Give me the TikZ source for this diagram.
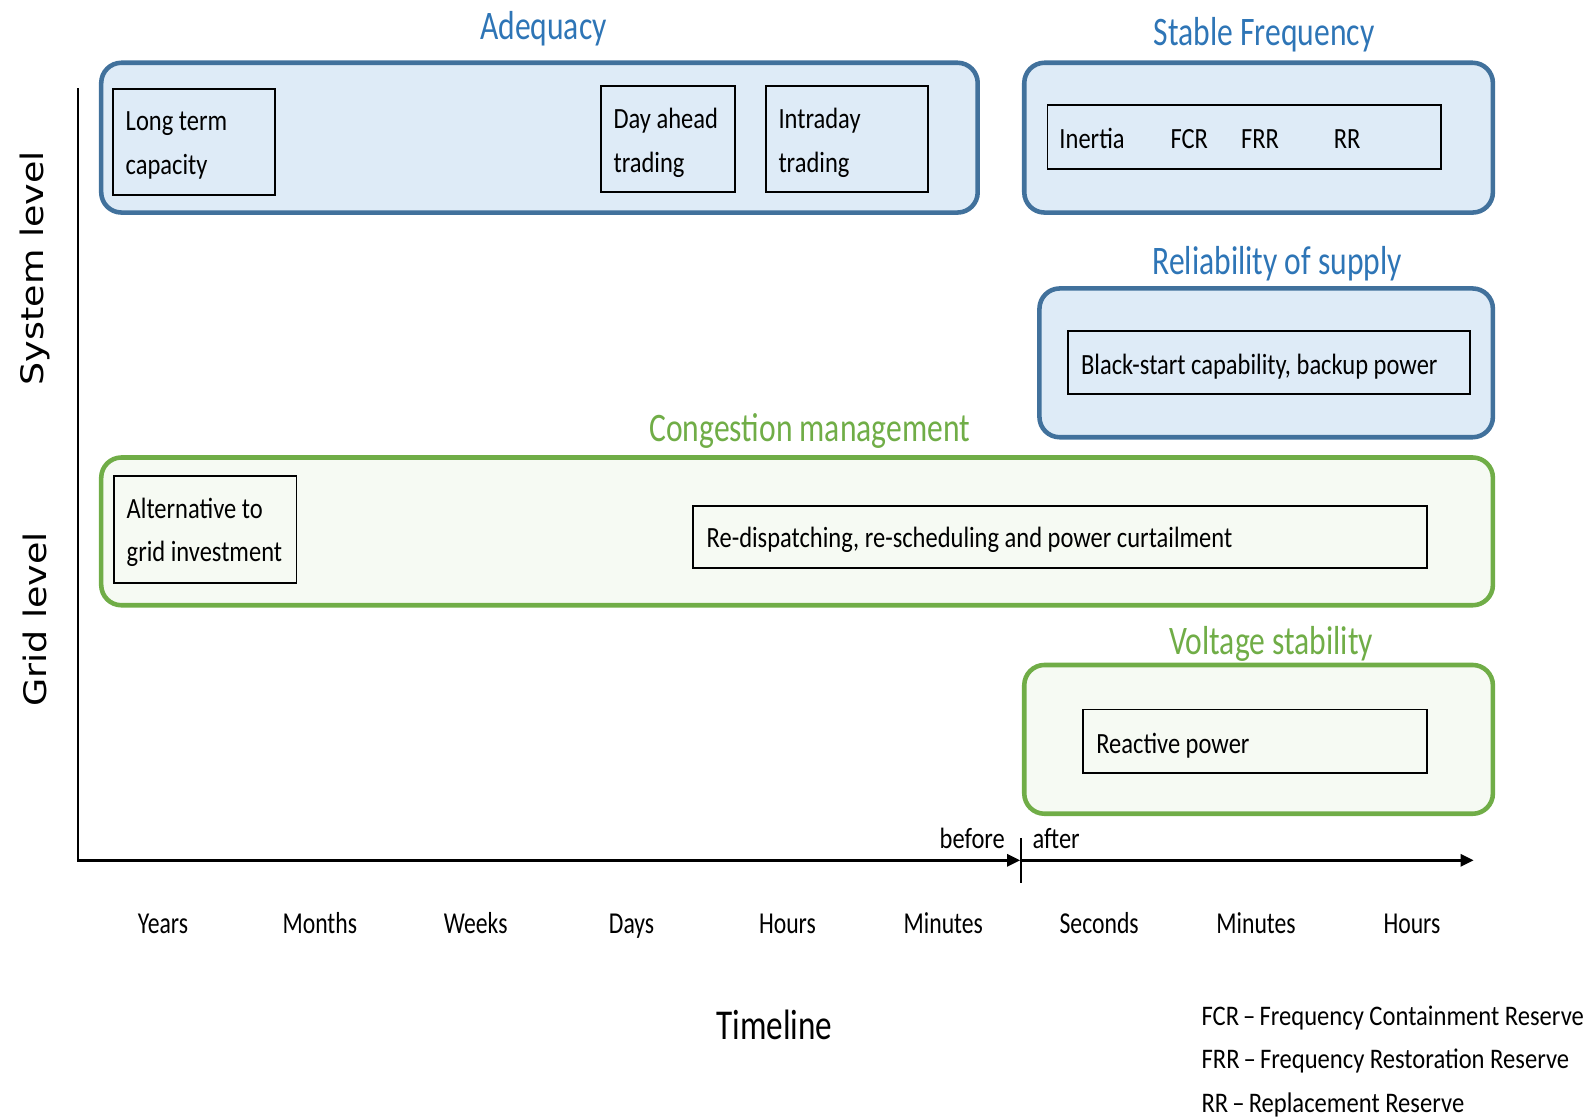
\documentclass[tikz,border=0pt]{standalone}
\usepackage{fontspec}
\setmainfont{Carlito}
\newfontfamily\vfont{DejaVu Sans}
\usetikzlibrary{arrows.meta}
\definecolor{tblue}{HTML}{2E75B6}
\definecolor{bborder}{HTML}{41719C}
\definecolor{bfill}{HTML}{DEEBF7}
\definecolor{gborder}{HTML}{70AD47}
\definecolor{gfill}{HTML}{F6FAF3}
\newcommand{\sq}[1]{\scalebox{0.78}[1]{#1}}
\newcommand{\sqb}[1]{\scalebox{0.835}[1]{#1}}
\newcommand{\sql}[1]{\scalebox{0.868}[1]{#1}}
\newcommand{\two}[2]{\begin{tabular}[t]{@{}l@{}}#1\\#2\end{tabular}}
\begin{document}
\begin{tikzpicture}[x=1pt,y=-1pt,
  bluebox/.style={draw=bborder,fill=bfill,line width=4.5pt,rounded corners=20pt,inner sep=0pt},
  greenbox/.style={draw=gborder,fill=gfill,line width=4.5pt,rounded corners=20pt,inner sep=0pt},
  inbox/.style={draw=black,line width=1.8pt,inner sep=0pt},
  txt/.style={inner sep=0pt,font=\fontsize{29}{43}\selectfont},
  ttl/.style={inner sep=0pt,anchor=base,font=\fontsize{40}{40}\selectfont},
  tick/.style={inner sep=0pt,anchor=base,font=\fontsize{30}{30}\selectfont},
  axis/.style={line width=2.5pt},
  arr/.style={-{Triangle[length=13pt,width=12pt]}}]
\useasboundingbox (0,0) rectangle (1568,1104);

% titles
\node[ttl,text=tblue] (tAdeq) at (537,39) {\sq{Adequacy}};
\node[ttl,text=tblue] (tStab) at (1249,45) {\sq{Stable Frequency}};
\node[ttl,text=tblue] (tRel) at (1262,271) {\sq{Reliability of supply}};
\node[ttl,text=gborder] (tCong) at (800,436) {\sq{Congestion management}};
\node[ttl,text=gborder] (tVolt) at (1256,647) {\sq{Voltage stability}};

% outer boxes
\node[bluebox,minimum width=866,minimum height=148] (adeq) at (533,136) {};
\node[bluebox,minimum width=463,minimum height=148] (stab) at (1243.5,136) {};
\node[bluebox,minimum width=448,minimum height=147] (rel) at (1251,358.5) {};
\node[greenbox,minimum width=1375,minimum height=146] (cong) at (787.5,525) {};
\node[greenbox,minimum width=463,minimum height=147] (volt) at (1243.5,730.5) {};

% inner boxes
\node[inbox,minimum width=160,minimum height=105] (ltc) at (192,140.5) {};
\node[inbox,minimum width=132,minimum height=105] (dat) at (660,137.5) {};
\node[inbox,minimum width=160,minimum height=105] (idt) at (837,137.5) {};
\node[inbox,minimum width=389,minimum height=63] (frq) at (1229.5,135.5) {};
\node[inbox,minimum width=397,minimum height=62] (bsc) at (1253.5,358) {};
\node[inbox,minimum width=180,minimum height=106] (alt) at (203,523) {};
\node[inbox,minimum width=725,minimum height=61] (red) at (1047.5,530.5) {};
\node[inbox,minimum width=340,minimum height=63] (rea) at (1240,732.5) {};

% box texts
\node[txt,anchor=base west] (ltcT) at (124,129) {\sqb{\two{Long term}{capacity}}};
\node[txt,anchor=base west] (datT) at (606,127) {\sqb{\two{Day ahead}{trading}}};
\node[txt,anchor=base west] (idtT) at (769,127) {\sqb{\two{Intraday}{trading}}};
\node[txt,anchor=base] (inT) at (1079,147) {\sqb{Inertia}};
\node[txt,anchor=base] (fcrT) at (1175,147) {\sqb{FCR}};
\node[txt,anchor=base] (frrT) at (1245,147) {\sqb{FRR}};
\node[txt,anchor=base] (rrT) at (1331,147) {\sqb{RR}};
\node[txt,anchor=base west] (bscT) at (1068,370) {\sqb{Black-start capability, backup power}};
\node[txt,anchor=base west] (altT) at (125,512) {\sqb{\two{Alternative to}{grid investment}}};
\node[txt,anchor=base west] (redT) at (698,541) {\sqb{Re-dispatching, re-scheduling and power curtailment}};
\node[txt,anchor=base west] (reaT) at (1083,744) {\sqb{Reactive power}};

% axes
\coordinate (ytop) at (77,87);
\coordinate (o) at (77,850);
\coordinate (xmid) at (1008,850);
\coordinate (tickT) at (1009,828);
\coordinate (tickB) at (1009,872);
\coordinate (xs2) at (1010,850);
\coordinate (xend) at (1456,850);
\draw[axis,arr] (ytop) -- (o) -- (xmid);
\draw[line width=2pt] (tickT) -- (tickB);
\draw[axis,arr] (xs2) -- (xend);

\node[txt,anchor=base east] (bef) at (993,838) {\sqb{before}};
\node[txt,anchor=base west] (aft) at (1020,838) {\sqb{after}};

% time labels
\node[tick] (l1) at (161,922) {\sq{Years}};
\node[tick] (l2) at (316,922) {\sq{Months}};
\node[tick] (l3) at (470,922) {\sq{Weeks}};
\node[tick] (l4) at (624,922) {\sq{Days}};
\node[tick] (l5) at (778,922) {\sq{Hours}};
\node[tick] (l6) at (932,922) {\sq{Minutes}};
\node[tick] (l7) at (1086,922) {\sq{Seconds}};
\node[tick] (l8) at (1241,922) {\sq{Minutes}};
\node[tick] (l9) at (1395,922) {\sq{Hours}};

\node[inner sep=0pt,anchor=base,font=\fontsize{42}{42}\selectfont] (tl) at (765,1027) {\sq{Timeline}};

% side labels
\node[inner sep=0pt,rotate=90,font=\vfont\fontsize{36}{36}\selectfont] (sys) at (35,265) {\scalebox{1}[0.85]{System level}};
\node[inner sep=0pt,rotate=90,font=\vfont\fontsize{36}{36}\selectfont] (grd) at (35,612) {\scalebox{1}[0.85]{Grid level}};

% legend
\node[txt,anchor=base west,font=\fontsize{28}{28}\selectfont] (lg1) at (1187,1013) {\sql{FCR\,--\,Frequency Containment Reserve}};
\node[txt,anchor=base west,font=\fontsize{28}{28}\selectfont] (lg2) at (1187,1056) {\sql{FRR\,--\,Frequency Restoration Reserve}};
\node[txt,anchor=base west,font=\fontsize{28}{28}\selectfont] (lg3) at (1187,1099) {\sql{RR\,--\,Replacement Reserve}};
\end{tikzpicture}
\end{document}
